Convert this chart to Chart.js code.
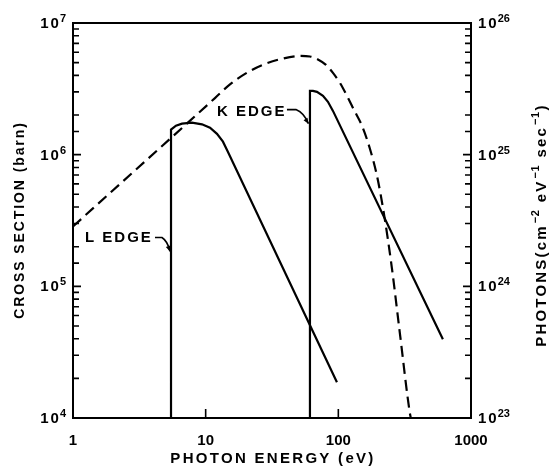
<!DOCTYPE html>
<html><head><meta charset="utf-8">
<script src="https://cdn.jsdelivr.net/npm/chart.js@4.4.0/dist/chart.umd.min.js"></script>
<style>html,body{margin:0;padding:0;background:#fff;}#wrap{width:551px;height:475px;}</style>
</head><body><div id="wrap"><canvas id="c" width="551" height="475"></canvas></div>
<script>
// ---- data ----
// photon spectrum (dashed, right axis, photons cm^-2 eV^-1 sec^-1)
const photonEnergy = [1, 11.75, 15.25, 19.8, 27, 36.3, 51.4, 61.1, 70.2, 80.7, 91.1, 102.8, 116.1, 131.1, 150.6, 173, 195.4, 220.6, 253.5, 291, 346, 352];
const photonFlux   = [2.85e24, 2.69e25, 3.42e25, 4.11e25, 4.81e25, 5.30e25, 5.62e25, 5.57e25, 5.29e25, 4.81e25, 4.18e25, 3.51e25, 2.80e25, 2.19e25, 1.66e25, 1.11e25, 6.93e24, 3.57e24, 1.37e24, 4.4e23, 1.09e23, 1.0e23];
// L-shell cross section (solid, left axis, barn)
const lShellEnergy = [5.48, 5.48, 5.97, 6.63, 7.88, 9.38, 10.78, 12.17, 13.5, 14.7, 97.6];
const lShellCross  = [1e4, 1.55e6, 1.66e6, 1.72e6, 1.75e6, 1.70e6, 1.60e6, 1.44e6, 1.255e6, 1.054e6, 1.87e4];
// K-shell cross section (solid, left axis, barn)
const kShellEnergy = [61.1, 61.1, 64.4, 69, 76.6, 83.5, 91.1, 614];
const kShellCross  = [1e4, 3.05e6, 3.05e6, 3.0e6, 2.8e6, 2.52e6, 2.15e6, 3.97e4];
// tick labels
const xTickLabels = [1, 10, 100, 1000];
const leftTickExponents = [4, 5, 6, 7];
const rightTickExponents = [23, 24, 25, 26];
// annotations (data units)
const edgeLabels = ['L EDGE', 'K EDGE'];
const edgeLabelEnergy = [1.231, 12.17];
const edgeLabelCross = [2.35e5, 2.13e6];
const lArrowEnergy = [4.15, 4.68, 5.11, 5.38];
const lArrowCross = [2.35e5, 2.35e5, 2.12e5, 1.84e5];
const kArrowEnergy = [41, 47.9, 54.1, 59.5];
const kArrowCross = [2.2e6, 2.2e6, 2.01e6, 1.72e6];

const FONT = '"Liberation Sans", Arial, sans-serif';
const pts = (xs, ys) => xs.map((x, i) => ({x, y: ys[i]}));
const isPow10 = v => { const l = Math.log10(v); return Math.abs(l - Math.round(l)) < 1e-6; };

function drawPower(ctx, exp, x, y, align) {
  ctx.font = 'bold 15px ' + FONT;
  ctx.letterSpacing = '2px';
  const wb = ctx.measureText('10').width;
  ctx.font = 'bold 11px ' + FONT;
  ctx.letterSpacing = '0px';
  const we = ctx.measureText(String(exp)).width;
  const x0 = align === 'right' ? x - wb - we : x;
  ctx.textAlign = 'left'; ctx.textBaseline = 'alphabetic';
  ctx.font = 'bold 15px ' + FONT; ctx.letterSpacing = '2px';
  ctx.fillText('10', x0, y + 5);
  ctx.font = 'bold 11px ' + FONT; ctx.letterSpacing = '0px';
  ctx.fillText(String(exp), x0 + wb - 1, y - 1);
}

function spacedText(ctx, text, x, y, spacing) {
  ctx.letterSpacing = spacing + 'px';
  ctx.fillText(text, x, y);
  ctx.letterSpacing = '0px';
}

const overlay = {
  id: 'overlay',
  afterDraw(chart) {
    const ctx = chart.ctx, a = chart.chartArea;
    const sx = chart.scales.x, sy = chart.scales.y, sy2 = chart.scales.y2;
    ctx.save();
    ctx.strokeStyle = '#000'; ctx.fillStyle = '#000';
    ctx.lineWidth = 2;
    ctx.strokeRect(a.left, a.top, a.right - a.left, a.bottom - a.top);
    ctx.lineWidth = 1.6;
    ctx.beginPath();
    sy.ticks.forEach(t => {
      if (t.value <= sy.min * 1.0001 || t.value >= sy.max * 0.9999) return;
      const p = sy.getPixelForValue(t.value);
      const len = isPow10(t.value) ? 8 : 6;
      ctx.moveTo(a.left, p); ctx.lineTo(a.left + len, p);
    });
    sy2.ticks.forEach(t => {
      if (t.value <= sy2.min * 1.0001 || t.value >= sy2.max * 0.9999) return;
      const p = sy2.getPixelForValue(t.value);
      const len = isPow10(t.value) ? 8 : 6;
      ctx.moveTo(a.right, p); ctx.lineTo(a.right - len, p);
    });
    sx.ticks.forEach(t => {
      if (!isPow10(t.value) || t.value <= sx.min * 1.0001 || t.value >= sx.max * 0.9999) return;
      const p = sx.getPixelForValue(t.value);
      ctx.moveTo(p, a.bottom); ctx.lineTo(p, a.bottom - 9);
    });
    ctx.stroke();
    // y tick labels
    leftTickExponents.forEach(e => drawPower(ctx, e, a.left - 6, sy.getPixelForValue(Math.pow(10, e)), 'right'));
    rightTickExponents.forEach(e => drawPower(ctx, e, a.right + 7, sy2.getPixelForValue(Math.pow(10, e)), 'left'));
    // axis titles
    ctx.textBaseline = 'middle'; ctx.textAlign = 'center';
    ctx.font = 'bold 15px ' + FONT;
    spacedText(ctx, 'PHOTON ENERGY (eV)', (a.left + a.right) / 2 + 1, 459, 2.3);
    ctx.save();
    ctx.translate(20, 220); ctx.rotate(-Math.PI / 2);
    ctx.font = 'bold 14px ' + FONT;
    spacedText(ctx, 'CROSS SECTION (barn)', 0, 0, 1.9);
    ctx.restore();
    // right title with superscripts
    ctx.save();
    ctx.translate(541, 225); ctx.rotate(-Math.PI / 2);
    const parts = [['PHOTONS(cm', false], ['-2', true], [' eV', false], ['-1', true], [' sec', false], ['-1', true], [')', false]];
    const setF = s => { ctx.font = s ? 'bold 11px ' + FONT : 'bold 15px ' + FONT; ctx.letterSpacing = s ? '0.5px' : '2.2px'; };
    let total = 0;
    parts.forEach(([t, s]) => { setF(s); total += ctx.measureText(t.replace(/-/g, '\u2212')).width + (s ? 2 : 0); });
    let cx = -total / 2;
    ctx.textAlign = 'left'; ctx.textBaseline = 'alphabetic';
    parts.forEach(([t, s]) => {
      setF(s);
      const txt = t.replace(/-/g, '\u2212');
      ctx.fillText(txt, cx + (s ? 1 : 0), s ? -2 : 5);
      cx += ctx.measureText(txt).width + (s ? 2 : 0);
    });
    ctx.letterSpacing = '0px';
    ctx.restore();
    // edge labels and arrows
    ctx.font = 'bold 15px ' + FONT;
    ctx.textAlign = 'left'; ctx.textBaseline = 'middle';
    edgeLabels.forEach((t, i) => spacedText(ctx, t, sx.getPixelForValue(edgeLabelEnergy[i]), sy.getPixelForValue(edgeLabelCross[i]), 2));
    [[lArrowEnergy, lArrowCross], [kArrowEnergy, kArrowCross]].forEach(([ex, ey]) => {
      const P = ex.map((e, i) => [sx.getPixelForValue(e), sy.getPixelForValue(ey[i])]);
      ctx.lineWidth = 1.6;
      ctx.beginPath();
      ctx.moveTo(P[0][0], P[0][1]);
      ctx.lineTo(P[1][0], P[1][1]);
      ctx.quadraticCurveTo(P[2][0] + 1, P[2][1] - 2, P[3][0], P[3][1]);
      ctx.stroke();
      const [x1, y1] = P[2], [x2, y2] = P[3];
      const ang = Math.atan2(y2 - y1, x2 - x1);
      ctx.beginPath();
      ctx.moveTo(x2, y2);
      ctx.lineTo(x2 - 6 * Math.cos(ang - 0.4), y2 - 6 * Math.sin(ang - 0.4));
      ctx.lineTo(x2 - 6 * Math.cos(ang + 0.4), y2 - 6 * Math.sin(ang + 0.4));
      ctx.closePath(); ctx.fill();
    });
    ctx.restore();
  }
};

new Chart(document.getElementById('c'), {
  type: 'scatter',
  data: {
    datasets: [
      { label: 'Photons', data: pts(photonEnergy, photonFlux), yAxisID: 'y2', showLine: true,
        borderColor: '#000', borderWidth: 2.2, borderDash: [11, 6], pointRadius: 0, cubicInterpolationMode: 'monotone', fill: false },
      { label: 'L shell', data: pts(lShellEnergy, lShellCross), yAxisID: 'y', showLine: true,
        borderColor: '#000', borderWidth: 2.2, pointRadius: 0, tension: 0, fill: false },
      { label: 'K shell', data: pts(kShellEnergy, kShellCross), yAxisID: 'y', showLine: true,
        borderColor: '#000', borderWidth: 2.2, pointRadius: 0, tension: 0, fill: false }
    ]
  },
  options: {
    responsive: false, animation: false, devicePixelRatio: 1,
    layout: { padding: { top: 23, left: 0, right: 0, bottom: 0 } },
    plugins: { legend: { display: false }, tooltip: { enabled: false }, title: { display: false } },
    scales: {
      x: { type: 'logarithmic', position: 'bottom', min: 1, max: 1000,
        grid: { display: false }, border: { display: false },
        ticks: { autoSkip: false, maxRotation: 0, minRotation: 0, color: '#000', padding: 6,
          font: { family: FONT, size: 15, weight: 'bold' },
          callback: v => (isPow10(v) && xTickLabels.some(t => Math.abs(t - v) < 1e-6 * t)) ? String(Math.round(v)) : '' },
        afterFit: s => { s.height = 57; } },
      y: { type: 'logarithmic', position: 'left', min: 1e4, max: 1e7,
        grid: { display: false }, border: { display: false },
        ticks: { autoSkip: false, callback: () => '' },
        afterFit: s => { s.width = 73; } },
      y2: { type: 'logarithmic', position: 'right', min: 1e23, max: 1e26,
        grid: { display: false }, border: { display: false },
        ticks: { autoSkip: false, callback: () => '' },
        afterFit: s => { s.width = 80; } }
    }
  },
  plugins: [overlay]
});
</script>
</body></html>
